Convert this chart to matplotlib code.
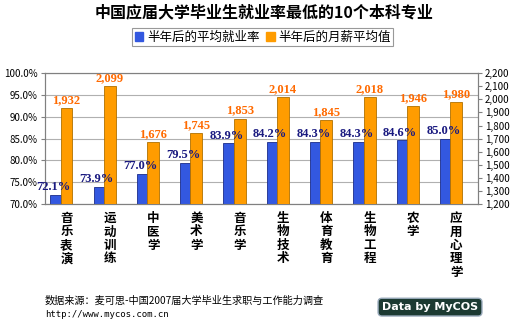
import matplotlib.pyplot as plt
import numpy as np
from matplotlib.patches import Rectangle
from matplotlib.ticker import FuncFormatter

plt.rcParams['font.family'] = ['Noto Sans CJK SC', 'DejaVu Sans']

majors = ['音乐表演', '运动训练', '中医学', '美术学', '音乐学',
          '生物技术', '体育教育', '生物工程', '农学', '应用心理学']
rates = [72.1, 73.9, 77.0, 79.5, 83.9, 84.2, 84.3, 84.3, 84.6, 85.0]
salary = [1932, 2099, 1676, 1745, 1853, 2014, 1845, 2018, 1946, 1980]

blue = '#3358e0'
orange = '#ff9c00'

fig = plt.figure(figsize=(5.15, 3.25), dpi=100)
ax = fig.add_axes([0.087, 0.372, 0.841, 0.403])
ax2 = ax.twinx()

x = np.arange(len(majors))
w = 0.25

ax.bar(x - w, rates, w, color=blue, edgecolor='#1a2c8a', linewidth=0.6, zorder=3)
ax2.bar(x, salary, w * 1.1, color=orange, edgecolor='#b07000', linewidth=0.6, zorder=3)

ax.set_xlim(-0.5, len(majors) - 0.5)
ax.set_ylim(70, 100)
ax.set_yticks(np.arange(70, 100.1, 5))
ax.yaxis.set_major_formatter(FuncFormatter(lambda v, p: f'{v:.1f}%'))
ax2.set_ylim(1200, 2200)
ax2.set_yticks(np.arange(1200, 2201, 100))
ax2.yaxis.set_major_formatter(FuncFormatter(lambda v, p: f'{int(v):,}'))

ax.grid(axis='y', color='#b0b0b0', linewidth=0.8, zorder=0)
ax.set_axisbelow(True)
for a in (ax, ax2):
    for s in a.spines.values():
        s.set_color('#808080')
    a.tick_params(axis='y', labelsize=7, length=3, color='#808080', pad=2)
ax.tick_params(axis='x', length=0, labelbottom=False)
ax2.tick_params(axis='x', length=0)

# value labels (drawn on ax2 so they sit above the orange bars)
for i in range(len(majors)):
    ax2.text(x[i] - w - 0.05, rates[i] + 0.4, f'{rates[i]:.1f}%', transform=ax.transData,
             ha='center', va='bottom', fontsize=9, fontweight='bold', color='#1a1a80',
             family='Liberation Serif', zorder=5)
    ax2.text(x[i], salary[i] + 15, f'{salary[i]:,}', ha='center', va='bottom',
             fontsize=9, fontweight='bold', color='#ff6a00', family='Liberation Serif', zorder=5)

# vertical category labels
for i, m in enumerate(majors):
    ax.text(x[i], -0.06, '\n'.join(m), transform=ax.get_xaxis_transform(),
            ha='center', va='top', fontsize=9, fontweight='bold', linespacing=1.05)

fig.text(0.512, 0.962, '中国应届大学毕业生就业率最低的10个本科专业', ha='center', va='center',
         fontsize=11.5, fontweight='bold')

handles = [Rectangle((0, 0), 1, 1, color=blue), Rectangle((0, 0), 1, 1, color=orange)]
leg = fig.legend(handles, ['半年后的平均就业率', '半年后的月薪平均值'], loc='center',
                 bbox_to_anchor=(0.51, 0.885), ncol=2, fontsize=9, frameon=True,
                 fancybox=False, edgecolor='#808080', handlelength=0.7, handleheight=0.7,
                 handletextpad=0.3, columnspacing=0.5, borderpad=0.2)
leg.get_frame().set_linewidth(0.8)

fig.text(0.087, 0.075, '数据来源：麦可思-中国2007届大学毕业生求职与工作能力调查',
         fontsize=7.3, va='center')
fig.text(0.087, 0.032, 'http://www.mycos.com.cn', fontsize=6.5, va='center',
         family='DejaVu Sans Mono')
fig.text(0.835, 0.055, 'Data by MyCOS', fontsize=8, fontweight='bold', color='white',
         ha='center', va='center', family='DejaVu Sans',
         bbox=dict(boxstyle='round,pad=0.35', facecolor='#1c3a32', edgecolor='#9ab'))

fig.savefig('out.png', dpi=100)
